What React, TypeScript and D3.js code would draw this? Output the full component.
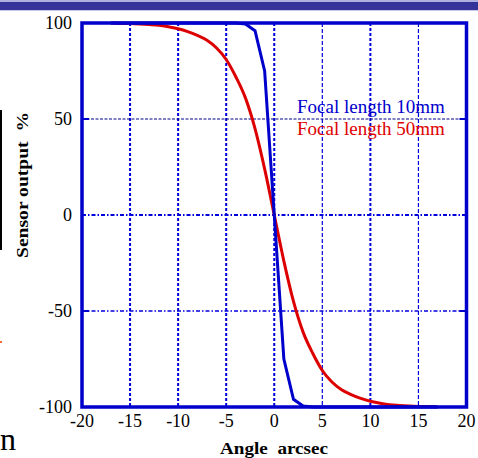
import React from 'react';
import * as d3 from 'd3';

// angle in arcsec
const angles = [-17, -16, -15, -14, -13, -12, -11, -10, -9, -8, -7, -6, -5, -4, -3, -2, -1, 0,
  1, 2, 3, 4, 5, 6, 7, 8, 9, 10, 11, 12, 13, 14, 15, 16, 17];
const focal10 = [100, 100, 100, 100, 100, 100, 100, 100, 100, 100, 100, 100, 100, 100, 99.5, 96, 75, 0,
  -75, -96, -99.5, -100, -100, -100, -100, -100, -100, -100, -100, -100, -100, -100, -100, -100, -100];
const focal50 = [100, 99.8, 99.7, 99.5, 99.2, 98.8, 98, 97, 95.5, 93.5, 91, 87, 81, 72, 61, 45, 24, 0,
  -24, -45, -61, -72, -81, -87, -91, -93.5, -95.5, -97, -98, -98.8, -99.2, -99.5, -99.7, -99.8, -100];
const xTicks = [-20, -15, -10, -5, 0, 5, 10, 15, 20];
const yTicks = [-100, -50, 0, 50, 100];

const W = 478;
const H = 458;
const serif = '"Liberation Serif", "Times New Roman", serif';

const App = () => {
  const x = d3.scaleLinear().domain([-20, 20]).range([82, 466.5]);
  const y = d3.scaleLinear().domain([-100, 100]).range([407, 23]);

  const line = d3.line<number>()
    .x((_, i) => x(angles[i]))
    .y(d => y(d));
  const smooth = d3.line<number>()
    .x((_, i) => x(angles[i]))
    .y(d => y(d))
    .curve(d3.curveMonotoneX);

  const thickV = new Set([-15, -10, -5, 0, 10]);

  return (
    <svg width={W} height={H} style={{ position: 'absolute', left: 0, top: 0 }}>
      <rect x={0} y={0} width={W} height={H} fill="#fff" />
      {/* slide header strip */}
      <rect x={0} y={0} width={W} height={2} fill="#b0b0e0" />
      <rect x={0} y={2} width={W} height={8} fill="#333399" />
      <rect x={0} y={10} width={W} height={1} fill="#c8c8e8" />
      {/* slide leftovers */}
      <rect x={0} y={110} width={2} height={140} fill="#000" />
      <rect x={0} y={341} width={2} height={2} fill="#ff6633" />
      <text x={0} y={450} fontFamily={serif} fontSize={32} fill="#000">n</text>

      {/* grid */}
      {xTicks.slice(1, -1).map(t => (
        <line key={'vx' + t} x1={x(t)} x2={x(t)} y1={y(100)} y2={y(-100)}
          stroke="#0000dd"
          strokeWidth={thickV.has(t) ? 2 : 1.2}
          strokeDasharray={thickV.has(t) ? '3,2' : '4,2'} />
      ))}
      <line x1={x(-20)} x2={x(20)} y1={y(50)} y2={y(50)} stroke="#00008b" strokeWidth={1} strokeDasharray="3,1.5" />
      <line x1={x(-20)} x2={x(20)} y1={y(0)} y2={y(0)} stroke="#0000dd" strokeWidth={2} strokeDasharray="4,2,1.5,2" />
      <line x1={x(-20)} x2={x(20)} y1={y(-50)} y2={y(-50)} stroke="#0000dd" strokeWidth={1.5} strokeDasharray="4,2,1.5,2" />

      {/* small ticks */}
      {[50, -50].map(t => (
        <g key={'yt' + t}>
          <line x1={x(-20)} x2={x(-20) + 7} y1={y(t)} y2={y(t)} stroke="#0000cc" strokeWidth={2} />
          <line x1={x(20) - 7} x2={x(20)} y1={y(t)} y2={y(t)} stroke="#0000cc" strokeWidth={2} />
        </g>
      ))}

      {/* curves */}
      <path d={smooth(focal50) ?? ''} fill="none" stroke="#dd0000" strokeWidth={3} />
      <path d={line(focal10) ?? ''} fill="none" stroke="#0000cc" strokeWidth={3} />

      {/* frame */}
      <rect x={x(-20)} y={y(100)} width={x(20) - x(-20)} height={y(-100) - y(100)}
        fill="none" stroke="#0000cc" strokeWidth={3.5} />

      {/* tick labels */}
      {yTicks.map(t => (
        <text key={'yl' + t} x={72} y={y(t) + 6} textAnchor="end" fontFamily={serif} fontSize={18} fill="#000">{t}</text>
      ))}
      {xTicks.map(t => (
        <text key={'xl' + t} x={x(t)} y={427} textAnchor="middle" fontFamily={serif} fontSize={18} fill="#000">{t}</text>
      ))}

      {/* axis titles */}
      <text x={220} y={454} fontFamily={serif} fontSize={16} fontWeight="bold" fill="#000"
        textLength={108} lengthAdjust="spacingAndGlyphs"
        style={{ whiteSpace: 'pre' }}>{'Angle  arcsec'}</text>
      <text transform="translate(28,258) rotate(-90)" fontFamily={serif} fontSize={16}
        fontWeight="bold" fill="#000" textLength={146} lengthAdjust="spacingAndGlyphs"
        style={{ whiteSpace: 'pre' }}>{'Sensor output  %'}</text>

      {/* legend */}
      <text x={297} y={113} fontFamily={serif} fontSize={19} fill="#0000cc">Focal length 10mm</text>
      <text x={297} y={135} fontFamily={serif} fontSize={19} fill="#dd0000">Focal length 50mm</text>
    </svg>
  );
};

export default App;
